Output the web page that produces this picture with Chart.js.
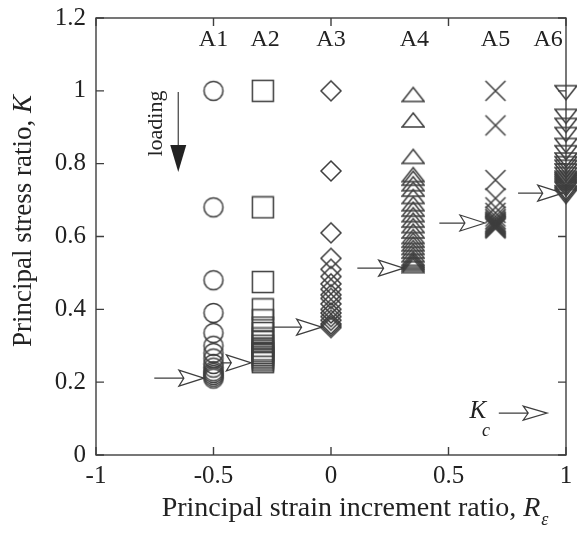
<!DOCTYPE html>
<html>
<head>
<meta charset="utf-8">
<script src="https://cdn.jsdelivr.net/npm/chart.js@4.4.0/dist/chart.umd.min.js"></script>
<style>
html,body{margin:0;padding:0;background:#fff;}
#wrap{width:577px;height:536px;}
</style>
</head>
<body>
<div id="wrap"><canvas id="chart" width="577" height="536"></canvas></div>
<script>
// values
const groups = ['A1','A2','A3','A4','A5','A6'];
const groupR = [-0.5, -0.29, 0, 0.35, 0.7, 1.0];
const kA1 = [1.0, 0.68, 0.48, 0.39, 0.335, 0.30, 0.28, 0.265, 0.25, 0.24, 0.23, 0.225, 0.22, 0.215, 0.21];
const kA2 = [1.0, 0.68, 0.475, 0.40, 0.37, 0.35, 0.335, 0.32, 0.31, 0.30, 0.29, 0.285, 0.28, 0.275, 0.27, 0.265, 0.26, 0.255];
const kA3 = [1.0, 0.78, 0.61, 0.54, 0.51, 0.49, 0.47, 0.455, 0.44, 0.43, 0.415, 0.40, 0.39, 0.38, 0.37, 0.36, 0.355, 0.35];
const kA4 = [0.99, 0.92, 0.82, 0.77, 0.76, 0.745, 0.73, 0.71, 0.69, 0.675, 0.66, 0.645, 0.63, 0.615, 0.60, 0.59, 0.58, 0.57, 0.56, 0.55, 0.54, 0.535, 0.53, 0.525, 0.52];
const kA5 = [1.0, 0.905, 0.755, 0.705, 0.68, 0.665, 0.655, 0.648, 0.644, 0.64, 0.638, 0.636, 0.634, 0.632, 0.63, 0.628, 0.626, 0.624, 0.622];
const kA6 = [0.995, 0.93, 0.905, 0.88, 0.85, 0.83, 0.81, 0.80, 0.79, 0.78, 0.77, 0.76, 0.755, 0.75, 0.745, 0.74, 0.735, 0.73, 0.72, 0.715, 0.71];
const allK = [kA1, kA2, kA3, kA4, kA5, kA6];

// Kc arrows (tail R, tip R, K)
const arrowFrom = [-0.752, -0.469, -0.246, 0.112, 0.461, 0.796];
const arrowTo   = [-0.541, -0.339, -0.040, 0.309, 0.655, 0.986];
const arrowK    = [0.211, 0.253, 0.351, 0.513, 0.637, 0.719];

const labelR = [-0.5, -0.28, 0.0, 0.355, 0.70, 0.924];
const labelK = 1.14;

const xTicks = [-1, -0.5, 0, 0.5, 1];
const yTicks = [0, 0.2, 0.4, 0.6, 0.8, 1, 1.2];

const ink = '#3e3e3e';
const serif = "'Liberation Serif', 'DejaVu Serif', serif";

// marker shapes
function marker(kind){
  const c = document.createElement('canvas');
  c.width = 24; c.height = 24;
  const g = c.getContext('2d');
  g.strokeStyle = ink; g.lineWidth = 1.5;
  g.beginPath();
  if(kind==='circle'){ g.arc(12,12,9.5,0,Math.PI*2); }
  if(kind==='square'){ g.rect(1.5,1.5,21,21); }
  if(kind==='diamond'){ g.moveTo(12,2); g.lineTo(22,12); g.lineTo(12,22); g.lineTo(2,12); g.closePath(); }
  if(kind==='tri'){ g.moveTo(12,5); g.lineTo(23,19); g.lineTo(1,19); g.closePath(); }
  if(kind==='cross'){ g.moveTo(2,2); g.lineTo(22,22); g.moveTo(22,2); g.lineTo(2,22); }
  if(kind==='down'){ g.moveTo(1,5); g.lineTo(23,5); g.lineTo(12,19); g.closePath(); }
  g.stroke();
  return c;
}
const shapes = ['circle','square','diamond','tri','cross','down'].map(marker);

const datasets = groups.map((name,i)=>({
  label: name,
  data: allK[i].map(k=>({x: groupR[i], y: k})),
  pointStyle: shapes[i],
  pointRadius: 10,
  clip: false
}));

const fmt = v => String(Math.round(v*10)/10);

const decor = {
  id: 'decor',
  afterDraw(chart){
    const ctx = chart.ctx, a = chart.chartArea;
    const xs = chart.scales.x, ys = chart.scales.y;
    ctx.save();
    ctx.strokeStyle = ink; ctx.lineWidth = 1.4;
    ctx.strokeRect(a.left, a.top, a.right-a.left, a.bottom-a.top);
    // inward ticks
    ctx.beginPath();
    xTicks.forEach(v=>{
      const px = xs.getPixelForValue(v);
      ctx.moveTo(px, a.bottom); ctx.lineTo(px, a.bottom-8);
      ctx.moveTo(px, a.top); ctx.lineTo(px, a.top+8);
    });
    yTicks.forEach(v=>{
      const py = ys.getPixelForValue(v);
      ctx.moveTo(a.left, py); ctx.lineTo(a.left+8, py);
      ctx.moveTo(a.right, py); ctx.lineTo(a.right-8, py);
    });
    ctx.stroke();

    // tick labels
    ctx.fillStyle = '#222';
    ctx.font = '25px ' + serif;
    ctx.textAlign = 'center'; ctx.textBaseline = 'top';
    xTicks.forEach(v=> ctx.fillText(fmt(v), xs.getPixelForValue(v), a.bottom + 9));
    ctx.textAlign = 'right'; ctx.textBaseline = 'middle';
    yTicks.forEach(v=> ctx.fillText(fmt(v), a.left - 10, ys.getPixelForValue(v)));

    // Kc arrows
    function openArrow(x0, x1, y, L, h){
      ctx.beginPath();
      ctx.moveTo(x0, y); ctx.lineTo(x1-L+5, y);
      ctx.moveTo(x1, y); ctx.lineTo(x1-L, y-h); ctx.lineTo(x1-L+5, y); ctx.lineTo(x1-L, y+h); ctx.closePath();
      ctx.stroke();
    }
    ctx.lineWidth = 1.2;
    arrowK.forEach((k,i)=>{
      openArrow(xs.getPixelForValue(arrowFrom[i]), xs.getPixelForValue(arrowTo[i]), ys.getPixelForValue(k), 25, 8);
    });
    // legend arrow
    openArrow(xs.getPixelForValue(0.714), xs.getPixelForValue(0.92), ys.getPixelForValue(0.115), 24, 7);

    ctx.textAlign = 'center'; ctx.textBaseline = 'middle';
    ctx.font = 'italic 25px ' + serif;
    ctx.fillText('K', xs.getPixelForValue(0.625), ys.getPixelForValue(0.12));
    ctx.font = 'italic 18px ' + serif;
    ctx.fillText('c', xs.getPixelForValue(0.66), ys.getPixelForValue(0.065));

    // group labels
    ctx.font = '24px ' + serif;
    groups.forEach((g,i)=>{
      ctx.fillText(g, xs.getPixelForValue(labelR[i]), ys.getPixelForValue(labelK));
    });

    // loading arrow
    const lx = xs.getPixelForValue(-0.65);
    const ly0 = ys.getPixelForValue(0.997), ly1 = ys.getPixelForValue(0.777);
    ctx.lineWidth = 1.2;
    ctx.beginPath(); ctx.moveTo(lx, ly0); ctx.lineTo(lx, ly1-20); ctx.stroke();
    ctx.beginPath(); ctx.moveTo(lx, ly1); ctx.lineTo(lx-8, ly1-27); ctx.lineTo(lx+8, ly1-27); ctx.closePath(); ctx.fill();
    ctx.save();
    ctx.translate(xs.getPixelForValue(-0.743), ys.getPixelForValue(0.91));
    ctx.rotate(-Math.PI/2);
    ctx.font = '22px ' + serif;
    ctx.fillText('loading', 0, 0);
    ctx.restore();

    // axis titles
    ctx.textBaseline = 'alphabetic'; ctx.textAlign = 'left';
    ctx.font = '28px ' + serif;
    const t1 = 'Principal strain increment ratio, ';
    const w1 = ctx.measureText(t1).width;
    ctx.font = 'italic 28px ' + serif;
    const wR = ctx.measureText('R').width;
    const sx = 356 - (w1 + wR + 10)/2;
    ctx.font = '28px ' + serif;
    ctx.fillText(t1, sx, 516);
    ctx.font = 'italic 28px ' + serif;
    ctx.fillText('R', sx + w1, 516);
    ctx.font = 'italic 18px ' + serif;
    ctx.fillText('\u03b5', sx + w1 + wR + 1, 525);

    ctx.save();
    ctx.translate(31, 221);
    ctx.rotate(-Math.PI/2);
    ctx.font = '27px ' + serif;
    const t2 = 'Principal stress ratio, ';
    const w2 = ctx.measureText(t2).width;
    ctx.font = 'italic 27px ' + serif;
    const wK = ctx.measureText('K').width;
    const sy = -(w2 + wK)/2;
    ctx.font = '27px ' + serif;
    ctx.fillText(t2, sy, 0);
    ctx.font = 'italic 27px ' + serif;
    ctx.fillText('K', sy + w2, 0);
    ctx.restore();
    ctx.restore();
  }
};

new Chart(document.getElementById('chart'), {
  type: 'scatter',
  data: { datasets },
  options: {
    responsive: false,
    animation: false,
    devicePixelRatio: 1,
    layout: { padding: { left: 0, right: 6, top: 18, bottom: 0 } },
    plugins: { legend: { display: false }, tooltip: { enabled: false } },
    scales: {
      x: {
        type: 'linear', min: -1, max: 1,
        afterBuildTicks: s => { s.ticks = xTicks.map(v=>({value:v})); },
        afterFit: s => { s.height = 81; },
        grid: { display: false },
        border: { display: false },
        ticks: { display: false }
      },
      y: {
        type: 'linear', min: 0, max: 1.2,
        afterBuildTicks: s => { s.ticks = yTicks.map(v=>({value:v})); },
        afterFit: s => { s.width = 96; },
        grid: { display: false },
        border: { display: false },
        ticks: { display: false }
      }
    }
  },
  plugins: [decor]
});
</script>
</body>
</html>
